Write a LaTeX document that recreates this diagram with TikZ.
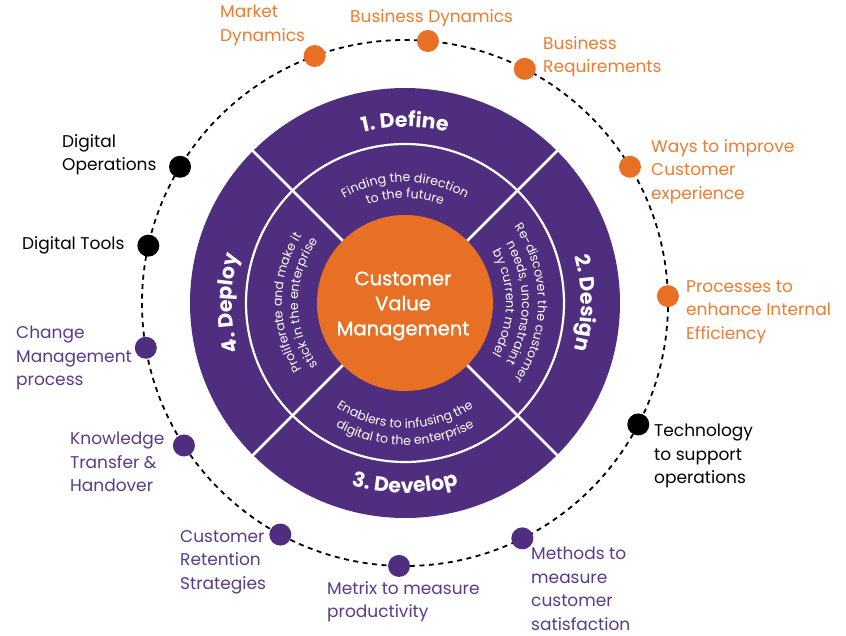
\documentclass[tikz,border=0pt]{standalone}
\usepackage{fontspec}
\setmainfont{Poppins}
\newfontfamily\midfont{Poppins}[RawFeature={embolden=1.2}]
\usetikzlibrary{decorations.text}

\definecolor{cvpurple}{HTML}{4F2D7F}
\definecolor{cvorange}{HTML}{E87025}
\definecolor{txorange}{HTML}{EE7B30}
\definecolor{txpurple}{HTML}{5A3A8B}

\tikzset{
  ring/.style={black, line width=1.8pt, dash pattern=on 5pt off 4.5pt},
  dot/.style={circle, fill=#1, minimum size=22pt, inner sep=0pt},
  lbl/.style={text=#1, align=left, inner sep=0pt, anchor=north west,
    font=\fontsize{17}{23.5}\selectfont},
  divider/.style={white, line width=2.6pt},
  bend/.style={decorate, decoration={text along path, text align=center,
    text color=white, text={#1}}},
}

\begin{document}
\begin{tikzpicture}[x=1pt, y=1pt]
  \useasboundingbox (-405,-332) rectangle (441,303);

  %% wheel
  \fill[cvpurple] (0,0) circle (215);
  \draw[white, line width=2.2pt] (0,0) circle (159);
  \foreach \a in {45,135,225,315}
    \draw[divider] (\a:80) -- (\a:216);
  \node[circle, fill=cvorange, minimum size=176pt, inner sep=0pt] (cvm) at (0,0) {};
  \node[align=center, text=white, font=\midfont\fontsize{19.5}{25}\selectfont]
    (cvmt) at (-2,-3) {Customer\\Value\\Management};

  %% phases
  \path[bend={|\fontsize{20.5}{22}\selectfont\bfseries|1. Define}]
    (135:176) arc[start angle=135, end angle=45, radius=176];
  \path[bend={|\fontsize{20.5}{22}\selectfont\bfseries|2. Design}]
    (45:176) arc[start angle=45, end angle=-45, radius=176];
  \path[bend={|\fontsize{20.5}{22}\selectfont\bfseries|3. Develop}]
    (225:190) arc[start angle=225, end angle=315, radius=190];
  \path[bend={|\fontsize{20.5}{22}\selectfont\bfseries|4. Deploy}]
    (225:173) arc[start angle=225, end angle=135, radius=173];

  %% phase details
  \path[bend={|\fontsize{12.5}{14}\selectfont|Finding the direction}]
    (135:121) arc[start angle=135, end angle=45, radius=121];
  \path[bend={|\fontsize{12.5}{14}\selectfont|to the future}]
    (135:105) arc[start angle=135, end angle=45, radius=105];

  \path[bend={|\fontsize{12.5}{14}\selectfont|Re-discover the customer}]
    (45:133) arc[start angle=45, end angle=-45, radius=133];
  \path[bend={|\fontsize{12.5}{14}\selectfont|needs, unconstraint}]
    (45:117) arc[start angle=45, end angle=-45, radius=117];
  \path[bend={|\fontsize{12.5}{14}\selectfont|by current model}]
    (45:101) arc[start angle=45, end angle=-45, radius=101];

  \path[bend={|\fontsize{12.5}{14}\selectfont|Enablers to infusing the}]
    (225:125) arc[start angle=225, end angle=315, radius=125];
  \path[bend={|\fontsize{12.5}{14}\selectfont|digital to the enterprise}]
    (225:142) arc[start angle=225, end angle=315, radius=142];

  \path[bend={|\fontsize{12.5}{14}\selectfont|Proliferate and make it}]
    (225:123) arc[start angle=225, end angle=135, radius=123];
  \path[bend={|\fontsize{12.5}{14}\selectfont|stick in the enterprise}]
    (225:107) arc[start angle=225, end angle=135, radius=107];

  %% outer ring
  \draw[ring] (0,0) circle (263);

  \node[dot=cvorange] (md) at (110.1:263) {};
  \node[dot=cvorange] (bd) at (85:263) {};
  \node[dot=cvorange] (br) at (62.9:263) {};
  \node[dot=cvorange] (wc) at (31.2:263) {};
  \node[dot=cvorange] (pe) at (1.5:263) {};
  \node[dot=black] (ts) at (-27.5:263) {};
  \node[dot=cvpurple] (ms) at (-63.5:263) {};
  \node[dot=cvpurple] (mp) at (-91.3:263) {};
  \node[dot=cvpurple] (cr) at (-118.3:263) {};
  \node[dot=cvpurple] (kt) at (-147.2:263) {};
  \node[dot=cvpurple] (cm) at (-170.2:263) {};
  \node[dot=black] (dt) at (167.4:263) {};
  \node[dot=black] (do) at (148.8:263) {};

  %% labels
  \node[lbl=txorange] (mdl) at (-185,298) {Market\\Dynamics};
  \node[lbl=txorange] (bdl) at (-55,294) {Business Dynamics};
  \node[lbl=txorange] (brl) at (138,267) {Business\\Requirements};
  \node[lbl=txorange] (wcl) at (246,164) {Ways to improve\\Customer\\experience};
  \node[lbl=txorange] (pel) at (281,23) {Processes to\\enhance Internal\\Efficiency};
  \node[lbl=black] (tsl) at (249,-121) {Technology\\to support\\operations};
  \node[lbl=txpurple] (msl) at (126,-244) {Methods to\\measure\\customer\\satisfaction};
  \node[lbl=txpurple] (mpl) at (-78,-278) {Metrix to measure\\productivity};
  \node[lbl=txpurple] (crl) at (-225,-227) {Customer\\Retention\\Strategies};
  \node[lbl=txpurple] (ktl) at (-335,-129) {Knowledge\\Transfer \&\\Handover};
  \node[lbl=txpurple] (cml) at (-389,-23) {Change\\Management\\process};
  \node[lbl=black] (dtl) at (-383,67) {Digital Tools};
  \node[lbl=black] (dol) at (-343,169) {Digital\\Operations};
\end{tikzpicture}
\end{document}
